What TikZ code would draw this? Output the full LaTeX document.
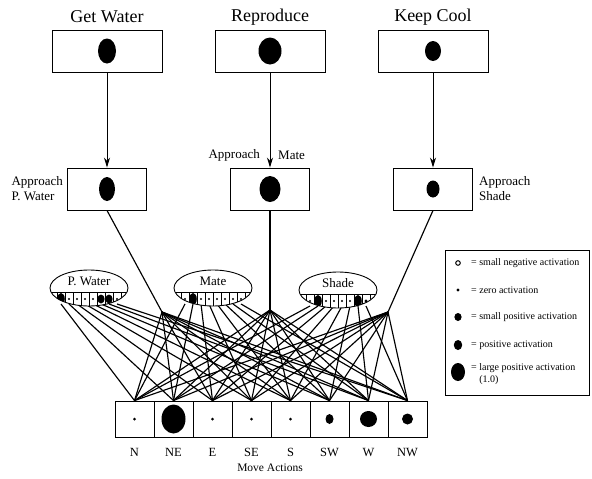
\documentclass[tikz,border=0pt]{standalone}
\usepackage{fontspec}
\setmainfont{Liberation Serif}
\usetikzlibrary{shapes.geometric,arrows.meta,backgrounds,calc}

\begin{document}
\begin{tikzpicture}[x=1pt, y=-1pt,
    goal/.style={draw, line width=0.9pt, fill=white, minimum width=110pt, minimum height=42pt, inner sep=0pt},
    behav/.style={draw, line width=0.9pt, fill=white, minimum width=79pt, minimum height=42pt, inner sep=0pt},
    act/.style={draw, line width=0.9pt, fill=white, minimum width=39pt, minimum height=36pt, inner sep=0pt},
    sense/.style={draw, ellipse, line width=0.9pt, fill=white, minimum width=78pt, minimum height=36pt, inner sep=0pt},
    title/.style={font=\fontsize{18}{20}\selectfont, inner sep=0pt},
    side/.style={font=\fontsize{13}{15}\selectfont, align=left, inner sep=0pt},
    senselab/.style={font=\fontsize{13}{15}\selectfont, inner sep=0pt},
    dirlab/.style={font=\fontsize{12.5}{14}\selectfont, inner sep=0pt},
    keytext/.style={font=\fontsize{10}{12}\selectfont, align=left, anchor=west, inner sep=0pt},
    link/.style={line width=1.15pt},
    down/.style={line width=1pt, -{Stealth[length=10pt, width=6pt]}}
  ]
  \useasboundingbox (0,0) rectangle (592,479);

  % goals
  \node[goal] (gw) at (107,51) {};
  \node[goal] (rp) at (270,51) {};
  \node[goal] (kc) at (433,51) {};
  \node[title] (gw-lab) at (107,17) {Get Water};
  \node[title] (rp-lab) at (270,17) {Reproduce};
  \node[title] (kc-lab) at (433,17) {Keep Cool};
  \fill (gw.center) ellipse (9pt and 12.5pt);
  \fill (rp.center) ellipse (11.5pt and 13.5pt);
  \fill (kc.center) ellipse (8pt and 10pt);

  % behaviours
  \node[behav] (apw) at (107,189) {};
  \node[behav] (am) at (270,189) {};
  \node[behav] (ash) at (433,189) {};
  \fill (apw.center) ellipse (8pt and 12pt);
  \fill (am.center) ellipse (10.5pt and 13pt);
  \fill (ash.center) ellipse (6.5pt and 8.5pt);
  \node[side, anchor=east] (apw-lab) at (63,189) {Approach\\P. Water};
  \node[side, anchor=east] (am-lab1) at (260,155) {Approach};
  \node[side, anchor=west] (am-lab2) at (278,155) {Mate};
  \node[side, anchor=west] (ash-lab) at (479,189) {Approach\\Shade};

  \draw[down] (gw) -- (apw);
  \draw[down] (rp) -- (am);
  \draw[down] (kc) -- (ash);

  \coordinate (hub-pw) at (162,312);
  \coordinate (hub-mt) at (270,310);
  \coordinate (hub-sh) at (388,312);

  % sensors
  \node[sense] (pw) at (89,288) {};
  \node[senselab] (pw-lab) at (89,281) {P. Water};
  \begin{scope}
    \clip (89,288) ellipse (39pt and 18pt);
    \draw[line width=0.8pt] (50,292) -- (128,292);
    \foreach \i in {0,...,8}
      \draw[line width=0.8pt] ({57+8*\i},292) -- ({57+8*\i},310);
    \foreach \rx/\ry [count=\i] in {3.8/6,1.2/1.2,1.2/1.2,1.2/1.2,1.2/1.2,3.6/4.5,3.6/4.5,1.2/1.2}
      \fill ({53+8*\i},299) ellipse (\rx pt and \ry pt);
  \end{scope}
  \foreach \i in {1,...,8}
    \coordinate (pw-\i) at ({53+8*\i},304);

  \node[sense] (mt) at (213,288) {};
  \node[senselab] (mt-lab) at (213,281) {Mate};
  \begin{scope}
    \clip (213,288) ellipse (39pt and 18pt);
    \draw[line width=0.8pt] (174,292) -- (252,292);
    \foreach \i in {0,...,8}
      \draw[line width=0.8pt] ({181+8*\i},292) -- ({181+8*\i},310);
    \foreach \rx/\ry [count=\i] in {1.2/1.2,3.8/6,1.2/1.2,1.2/1.2,1.2/1.2,1.2/1.2,1.2/1.2,1.2/1.2}
      \fill ({177+8*\i},299) ellipse (\rx pt and \ry pt);
  \end{scope}
  \foreach \i in {1,...,8}
    \coordinate (mt-\i) at ({177+8*\i},304);

  \node[sense] (sh) at (338,290) {};
  \node[senselab] (sh-lab) at (338,283) {Shade};
  \begin{scope}
    \clip (338,290) ellipse (39pt and 18pt);
    \draw[line width=0.8pt] (299,294) -- (377,294);
    \foreach \i in {0,...,8}
      \draw[line width=0.8pt] ({306+8*\i},294) -- ({306+8*\i},312);
    \foreach \rx/\ry [count=\i] in {1.2/1.2,3.8/6,1.2/1.2,1.2/1.2,1.2/1.2,1.2/1.2,3.8/6,1.6/1.6}
      \fill ({302+8*\i},301) ellipse (\rx pt and \ry pt);
  \end{scope}
  \foreach \i in {1,...,8}
    \coordinate (sh-\i) at ({302+8*\i},306);

  % move actions
  \foreach \d/\rx/\ry [count=\i] in {N/1.5/1.5, NE/12/14.5, E/1.5/1.5, SE/1.5/1.5, S/1.5/1.5, SW/4/5, W/8.5/8, NW/5.5/5.5} {
    \node[act] (act-\i) at ({95.5+39*\i},419) {};
    \fill (act-\i.center) ellipse (\rx pt and \ry pt);
    \node[dirlab] (dir-\i) at ({95.5+39*\i},452) {\d};
  }
  \node[dirlab, font=\fontsize{11.5}{13}\selectfont] (moves) at (270,468) {Move Actions};

  % links
  \begin{scope}[on background layer]
    \draw[link] (apw.south) -- (hub-pw);
    \draw[link] (am.south) -- (hub-mt);
    \draw[link] (ash.south) -- (hub-sh);
    \foreach \i in {1,...,8} {
      \draw[link] (hub-pw) -- (act-\i.north);
      \draw[link] (hub-mt) -- (act-\i.north);
      \draw[link] (hub-sh) -- (act-\i.north);
      \draw[link] (pw-\i) -- (act-\i.north);
      \draw[link] (mt-\i) -- (act-\i.north);
      \draw[link] (sh-\i) -- (act-\i.north);
    }
  \end{scope}

  % key
  \node[draw, line width=0.9pt, minimum width=144pt, minimum height=145pt] (key) at (517,322.5) {};
  \draw[line width=1pt] (458,263) circle (2.3pt);
  \fill (458,290) circle (1.7pt);
  \fill (458,317) ellipse (3.6pt and 4pt);
  \fill (458,345) ellipse (4.2pt and 5pt);
  \fill (458,372) ellipse (7pt and 9pt);
  \node[keytext] (key-1) at (471,263) {= small negative activation};
  \node[keytext] (key-2) at (471,290) {= zero activation};
  \node[keytext] (key-3) at (471,317) {= small positive activation};
  \node[keytext] (key-4) at (471,345) {= positive activation};
  \node[keytext] (key-5) at (471,374) {= large positive activation\\\phantom{= }(1.0)};
\end{tikzpicture}
\end{document}
